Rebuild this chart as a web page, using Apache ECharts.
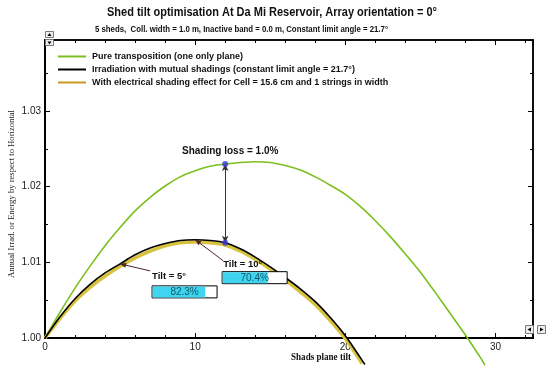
<!DOCTYPE html>
<html><head><meta charset="utf-8">
<script src="https://cdn.jsdelivr.net/npm/echarts@6/dist/echarts.min.js"></script>
<style>html,body{margin:0;padding:0;background:#fff}#c{width:550px;height:375px}</style>
</head><body><div id="c"></div>
<script>
// ---------- data ----------
const titleText = 'Shed tilt optimisation At Da Mi Reservoir, Array orientation = 0°';
const subtitleText = '5 sheds,  Coll. width = 1.0 m, Inactive band = 0.0 m, Constant limit angle = 21.7°';
const yAxisName = 'Annual Irrad. or Energy by respect to Horizontal';
const xAxisName = 'Shads plane tilt';
const seriesNames = [
  'Pure transposition (one only plane)',
  'Irradiation with mutual shadings (constant limit angle = 21.7°)',
  'With electrical shading effect for Cell = 15.6 cm and 1 strings in width'
];
const tiltPure = [0,1,2,3,4,5,6,7,8,9,10,11,12,13,14,15,16,17,18,19,20,21,22,23,24,25,26,27,28,29,29.3];
const pureVals = [1.0000,1.0034,1.0066,1.0095,1.0122,1.0146,1.0168,1.0186,1.0201,1.0213,1.0221,1.0227,1.0230,1.0232,1.0233,1.0232,1.0228,1.0222,1.0213,1.0202,1.0190,1.0174,1.0155,1.0134,1.0111,1.0087,1.0060,1.0032,1.0004,0.9974,0.9964];
const tiltShade = [0,1,2,3,4,5,6,7,8,9,10,11,12,13,14,15,16,17,18,19,20,21,21.3];
const shadeVals = [1.0000,1.0028,1.0052,1.0071,1.0086,1.0098,1.0110,1.0119,1.0125,1.0129,1.0130,1.0129,1.0126,1.0118,1.0107,1.0094,1.0080,1.0065,1.0048,1.0027,1.0003,0.9974,0.9965];
const tiltElec = [0,1,2,3,4,5,6,7,8,9,10,11,12,13,14,15,16,17,18,19,20,21,21.1];
const elecVals = [1.0000,1.0026,1.0049,1.0067,1.0082,1.0095,1.0106,1.0115,1.0122,1.0126,1.0127,1.0126,1.0123,1.0115,1.0104,1.0091,1.0077,1.0061,1.0044,1.0023,0.9999,0.9970,0.9966];
const xTickLabels = [0,10,20,30];
const yTickLabels = [1.00,1.01,1.02,1.03];
const lossTilt = 12;
const lossText = 'Shading loss = 1.0%';
const annoTilts = [5,10];
const annoPct = [82.3,70.4];

// ---------- layout / style ----------
const X_MIN=0, X_MAX=32.5, Y_MIN=1.0, Y_MAX=1.0394;
const GREEN='#7cbf1e', BLACK='#000', ELEC='#d6c23c', ELEC_LEG='#c99a22';
const SANS='"Liberation Sans", Arial, sans-serif';
const SERIF='"Liberation Serif", "Times New Roman", serif';
const annoLayout = [
  {ax:30, ay:7, tx:32, ty:12, bx:32, by:22},
  {ax:28, ay:21, tx:28, ty:25, bx:27, by:32}
];
const mctx = document.createElement('canvas').getContext('2d');
function fitScale(text, font, w){ mctx.font = font; return w / mctx.measureText(text).width; }
const pairs = (xs, ys) => xs.map((x,i)=>[x, ys[i]]);

const chart = echarts.init(document.getElementById('c'), null, {renderer:'canvas'});

function xAx(pos, interval, len, labels, lineW){
  return {type:'value', position:pos, min:X_MIN, max:X_MAX, interval:interval,
    axisLine:{show:true, onZero:false, lineStyle:{color:'#000', width:lineW}},
    axisTick:{show:true, inside:true, length:len, lineStyle:{color:'#000', width:1}},
    axisLabel:{show:labels, showMaxLabel:false, margin:4, color:'#222', fontFamily:SANS, fontSize:10,
      formatter:v=> xTickLabels.indexOf(v)>=0 ? String(v) : ''},
    splitLine:{show:false}};
}
function yAx(pos, interval, len, labels, lineW){
  return {type:'value', position:pos, min:Y_MIN, max:Y_MAX, interval:interval,
    axisLine:{show:true, onZero:false, lineStyle:{color:'#000', width:lineW}},
    axisTick:{show:true, inside:true, length:len, lineStyle:{color:'#000', width:1}},
    axisLabel:{show:labels, showMaxLabel:false, margin:4, color:'#222', fontFamily:SANS, fontSize:10,
      formatter:v=> yTickLabels.some(t=>Math.abs(t-v)<1e-9) ? v.toFixed(2) : ''},
    splitLine:{show:false}};
}

const gIdx = tiltPure.indexOf(lossTilt), bIdx = tiltShade.indexOf(lossTilt);
const lossPts = [[lossTilt, pureVals[gIdx]], [lossTilt, shadeVals[bIdx]]];

chart.setOption({
  animation:false,
  backgroundColor:'#fff',
  grid:{left:45, right:17, top:40, bottom:37, containLabel:false, outerBoundsMode:'none'},
  xAxis:[xAx('bottom',10,5,true,2), xAx('bottom',2,3,false,2), xAx('top',10,5,false,1.5), xAx('top',2,3,false,1.5)],
  yAxis:[yAx('left',0.01,5,true,2), yAx('left',0.005,3,false,2), yAx('right',0.01,5,false,1.5), yAx('right',0.005,3,false,1.5)],
  legend:{orient:'vertical', left:53, top:46, itemWidth:28, itemHeight:2, itemGap:2, icon:'rect',
    textStyle:{fontFamily:SANS, fontSize:9, fontWeight:'bold', color:'#111', lineHeight:11, padding:[0,0,0,1]},
    data:[{name:seriesNames[0], itemStyle:{color:GREEN}}, {name:seriesNames[1], itemStyle:{color:BLACK}}, {name:seriesNames[2], itemStyle:{color:ELEC_LEG}}]},
  series:[
    {name:seriesNames[0], type:'line', data:pairs(tiltPure,pureVals), showSymbol:false, smooth:0.3, clip:false, z:2,
      lineStyle:{color:GREEN, width:1.6}, itemStyle:{color:GREEN}},
    {name:seriesNames[2], type:'line', data:pairs(tiltElec,elecVals), showSymbol:false, smooth:0.3, clip:false, z:3,
      lineStyle:{color:ELEC, width:3.5}, itemStyle:{color:ELEC_LEG}},
    {name:seriesNames[1], type:'line', data:pairs(tiltShade,shadeVals), showSymbol:false, smooth:0.3, clip:false, z:4,
      lineStyle:{color:BLACK, width:1.6}, itemStyle:{color:BLACK}},
    {name:'loss', type:'scatter', data:lossPts, symbolSize:6, z:6, itemStyle:{color:'#3434d6'},
      markLine:{silent:true, symbol:['arrow','arrow'], symbolSize:[5,7], label:{show:false},
        lineStyle:{color:'#333', width:1, type:'solid'}, data:[[{coord:lossPts[0]},{coord:lossPts[1]}]]}}
  ]
});

function px(p){ return chart.convertToPixel({xAxisIndex:0, yAxisIndex:0}, p); }
const g = [];
const tFont = 'bold 12.5px '+SANS;
g.push({type:'text', x:272, y:13, scaleX:fitScale(titleText,tFont,330), style:{text:titleText, font:tFont, fill:'#111', align:'center', verticalAlign:'middle'}});
const sFont = 'bold 9px '+SANS;
g.push({type:'text', x:241.5, y:30, scaleX:fitScale(subtitleText,sFont,293), style:{text:subtitleText, font:sFont, fill:'#111', align:'center', verticalAlign:'middle'}});
const xnFont = 'bold 10px '+SERIF;
g.push({type:'text', x:321, y:357, scaleX:fitScale(xAxisName,xnFont,60), style:{text:xAxisName, font:xnFont, fill:'#111', align:'center', verticalAlign:'middle'}});
const ynFont = '8.5px '+SERIF;
g.push({type:'text', x:12, y:194, rotation:Math.PI/2, scaleX:fitScale(yAxisName,ynFont,168), style:{text:yAxisName, font:ynFont, fill:'#222', align:'center', verticalAlign:'middle'}});
// shading loss label
const up = px(lossPts[0]);
g.push({type:'text', x:up[0]+5, y:up[1]-13, z:10, style:{text:lossText, font:'bold 10px '+SANS, fill:'#111', align:'center', verticalAlign:'middle'}});
// tilt annotations
annoTilts.forEach((t,i)=>{
  const L = annoLayout[i];
  const P = px([t, shadeVals[tiltShade.indexOf(t)]]);
  const sx = P[0]+L.ax, sy = P[1]+L.ay;
  g.push({type:'line', z:10, shape:{x1:sx, y1:sy, x2:P[0], y2:P[1]}, style:{stroke:'#4a2626', lineWidth:1}});
  const ang = Math.atan2(sy-P[1], sx-P[0]);
  const hl=6, hw=2.5;
  const bx = P[0]+Math.cos(ang)*hl, by = P[1]+Math.sin(ang)*hl;
  g.push({type:'polygon', z:10, shape:{points:[[P[0],P[1]],[bx-Math.sin(ang)*hw, by+Math.cos(ang)*hw],[bx+Math.sin(ang)*hw, by-Math.cos(ang)*hw]]}, style:{fill:'#4a2626'}});
  const label = 'Tilt = '+t+'°';
  g.push({type:'text', z:10, x:P[0]+L.tx, y:P[1]+L.ty, style:{text:label, font:'bold 9.5px '+SANS, fill:'#111', align:'left', verticalAlign:'middle'}});
  const bw=65, bh=12;
  g.push({type:'rect', z:10, shape:{x:P[0]+L.bx, y:P[1]+L.by, width:bw, height:bh}, style:{fill:'#fff', stroke:'#000', lineWidth:1}});
  g.push({type:'rect', z:11, shape:{x:P[0]+L.bx+0.5, y:P[1]+L.by+0.5, width:(bw-1)*annoPct[i]/100, height:bh-1}, style:{fill:'#3fd4ef'}});
  g.push({type:'text', z:12, x:P[0]+L.bx+bw/2, y:P[1]+L.by+bh/2+0.5, style:{text:annoPct[i].toFixed(1)+'%', font:'10px '+SANS, fill:'#0c5a66', align:'center', verticalAlign:'middle'}});
});
// scroll buttons
function btn(x,y,w,h,tri){
  g.push({type:'rect', z:20, shape:{x:x,y:y,width:w,height:h}, style:{fill:'#eeeeee', stroke:'#7a7a7a', lineWidth:1}});
  g.push({type:'polygon', z:21, shape:{points:tri}, style:{fill:'#000'}});
}
btn(45.5,31.5,8,6,[[49.5,33],[47.5,36],[51.5,36]]);
btn(45.5,39.5,8,6,[[47.5,41.5],[51.5,41.5],[49.5,44.5]]);
btn(525.5,325.5,8,8,[[527.5,329.5],[531,327.5],[531,331.5]]);
btn(537.5,325.5,8,8,[[543.5,329.5],[540,327.5],[540,331.5]]);
chart.setOption({graphic:g});
</script></body></html>
